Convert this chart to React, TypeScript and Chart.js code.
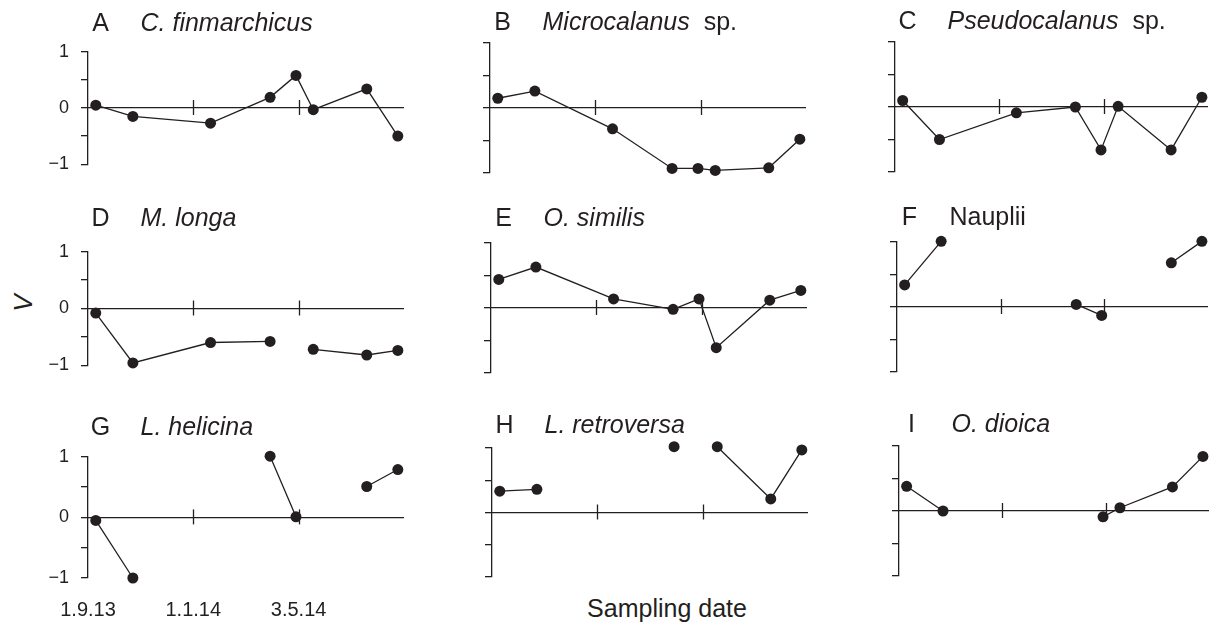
import React, { useEffect, useRef } from "react";
import { Chart, registerables } from "chart.js";

Chart.register(...registerables);

// ---------- data ----------
// sampling days counted from 1.9.13
const SAMPLING_DAYS = [9, 52, 142, 211, 241, 261, 323, 359];
const X_MAX_DAYS = 365;
const ZERO_LINE_TICK_DAYS = [122, 244]; // 1.1.14, 3.5.14
const DATE_TICK_DAYS = [0, 122, 244];
const DATE_TICK_LABELS = ["1.9.13", "1.1.14", "3.5.14"];
const Y_TICKS = [-1, -0.5, 0, 0.5, 1];
const Y_TICK_LABELS = ["\u22121", "", "0", "", "1"];

const PANEL_LETTERS = ["A", "B", "C", "D", "E", "F", "G", "H", "I"];
const NAME_ITALIC = ["C. finmarchicus", "Microcalanus", "Pseudocalanus", "M. longa", "O. similis", "", "L. helicina", "L. retroversa", "O. dioica"];
const NAME_PLAIN = ["", "sp.", "sp.", "", "", "Nauplii", "", "", ""];

const V_A = [0.05, -0.15, -0.27, 0.19, 0.58, -0.03, 0.34, -0.5];
const V_B = [0.15, 0.26, -0.32, -0.93, -0.93, -0.96, -0.92, -0.48];
const V_C = [0.1, -0.5, -0.09, 0.0, -0.66, 0.01, -0.66, 0.15];
const V_D = [-0.08, -0.96, -0.6, -0.58, null, -0.72, -0.82, -0.74];
const V_E = [0.44, 0.63, 0.14, -0.02, 0.14, -0.61, 0.12, 0.27];
const V_F = [0.34, 1.01, null, 0.04, -0.13, null, 0.68, 1.01];
const V_G = [-0.05, -1.0, null, 1.01, 0.01, null, 0.51, 0.79];
const V_H = [0.33, 0.36, null, 1.02, null, 1.02, 0.21, 0.97];
const V_I = [0.38, 0.0, null, null, -0.09, 0.05, 0.37, 0.84];
const PANEL_VALUES = [V_A, V_B, V_C, V_D, V_E, V_F, V_G, V_H, V_I];

// ---------- layout (plot-area boxes, px) ----------
const PANEL_BOXES = [
  { left: 88, right: 403, top: 43, bottom: 173, base: 31 },
  { left: 490, right: 805, top: 43, bottom: 173, base: 30 },
  { left: 895, right: 1207, top: 42, bottom: 172, base: 29 },
  { left: 88, right: 403, top: 243, bottom: 374, base: 226 },
  { left: 491, right: 806, top: 243, bottom: 373, base: 226 },
  { left: 897, right: 1207, top: 242, bottom: 372, base: 225 },
  { left: 88, right: 403, top: 448, bottom: 578, base: 435 },
  { left: 492, right: 807, top: 448, bottom: 577, base: 433 },
  { left: 899, right: 1208, top: 446, bottom: 576, base: 432 },
];

const INK = "#231f20";
const FONT = '"Liberation Sans", Arial, Helvetica, sans-serif';
Chart.defaults.font.family = FONT;

const YW = 50;
const PT = 14;
const PR = 12;
const PB = 14;
const X2H = 46;

const zeroLineTicks = {
  id: "zeroLineTicks",
  beforeDatasetsDraw(chart: any) {
    const xs = chart.scales.x;
    const ys = chart.scales.y;
    const ctx = chart.ctx;
    const py = ys.getPixelForValue(0);
    ctx.save();
    ctx.strokeStyle = INK;
    ctx.lineWidth = 1.3;
    for (const d of ZERO_LINE_TICK_DAYS) {
      const px = Math.round(xs.getPixelForValue(d)) + 0.5;
      ctx.beginPath();
      ctx.moveTo(px, py - 8);
      ctx.lineTo(px, py + 7);
      ctx.stroke();
    }
    ctx.restore();
  },
};

function Panel({ idx }: { idx: number }) {
  const ref = useRef<HTMLCanvasElement>(null);
  const box = PANEL_BOXES[idx];
  const col = idx % 3;
  const showYLabels = col === 0;
  const showDates = idx === 6;
  const areaW = box.right - box.left;
  const areaH = box.bottom - box.top;
  const W = YW + areaW + PR;
  const H = PT + areaH + PB + (showDates ? X2H : 0);

  useEffect(() => {
    if (!ref.current) return;
    const values = PANEL_VALUES[idx];
    const data = SAMPLING_DAYS.map((d, i) => ({ x: d, y: values[i] }));
    const scales: any = {
      x: {
        type: "linear",
        min: 0,
        max: X_MAX_DAYS,
        position: { y: 0 },
        ticks: { display: false },
        grid: { display: false, drawTicks: false },
        border: { display: true, color: INK, width: 1.3 },
        afterFit: (s: any) => {
          s.height = 0;
        },
      },
      y: {
        type: "linear",
        min: -1,
        max: 1,
        afterBuildTicks: (s: any) => {
          s.ticks = Y_TICKS.map((v) => ({ value: v }));
        },
        afterFit: (s: any) => {
          s.width = YW;
        },
        ticks: {
          display: showYLabels,
          callback: (_v: any, i: number) => Y_TICK_LABELS[i],
          font: { family: FONT, size: 18 },
          color: INK,
          padding: 12,
        },
        grid: { display: true, drawOnChartArea: false, drawTicks: true, tickLength: 7, color: INK, lineWidth: 1.3 },
        border: { display: true, color: INK, width: 1.3 },
      },
    };
    if (showDates) {
      scales.x2 = {
        type: "linear",
        position: "bottom",
        min: 0,
        max: X_MAX_DAYS,
        afterBuildTicks: (s: any) => {
          s.ticks = DATE_TICK_DAYS.map((v) => ({ value: v }));
        },
        afterFit: (s: any) => {
          s.height = X2H;
        },
        ticks: {
          callback: (_v: any, i: number) => DATE_TICK_LABELS[i],
          autoSkip: false,
          maxRotation: 0,
          minRotation: 0,
          font: { family: FONT, size: 20 },
          color: INK,
          padding: 20,
        },
        grid: { display: false, drawTicks: false },
        border: { display: false },
      };
    }
    const chart = new Chart(ref.current, {
      type: "line",
      data: {
        datasets: [
          {
            data: data as any,
            xAxisID: "x",
            yAxisID: "y",
            borderColor: INK,
            backgroundColor: INK,
            borderWidth: 1.3,
            pointRadius: 5.5,
            pointBackgroundColor: INK,
            pointBorderColor: INK,
            pointBorderWidth: 0,
            tension: 0,
            spanGaps: false,
            clip: false as any,
          },
        ],
      },
      options: {
        responsive: false,
        animation: false,
        events: [],
        layout: { padding: { top: PT, right: PR, bottom: PB, left: 0 } },
        plugins: { legend: { display: false }, tooltip: { enabled: false }, title: { display: false } },
        scales,
      },
      plugins: [zeroLineTicks],
    });
    return () => chart.destroy();
  }, [idx]);

  return (
    <canvas
      ref={ref}
      width={W}
      height={H}
      style={{ position: "absolute", left: box.left - YW, top: box.top - PT, width: W, height: H }}
    />
  );
}

function Title({ idx }: { idx: number }) {
  const box = PANEL_BOXES[idx];
  const size = 25;
  const top = box.base - 0.85 * size;
  const italic = NAME_ITALIC[idx];
  const plain = NAME_PLAIN[idx];
  return (
    <>
      <div
        style={{
          position: "absolute",
          left: box.left + 12.5 - 20,
          width: 40,
          textAlign: "center",
          top,
          fontSize: size,
          lineHeight: `${size}px`,
          color: INK,
          whiteSpace: "nowrap",
        }}
      >
        {PANEL_LETTERS[idx]}
      </div>
      <div
        style={{
          position: "absolute",
          left: box.left + 52.5,
          top,
          fontSize: size,
          lineHeight: `${size}px`,
          color: INK,
          whiteSpace: "nowrap",
        }}
      >
        {italic ? <i>{italic}</i> : null}
        {italic && plain ? "\u00a0 " : ""}
        {plain}
      </div>
    </>
  );
}

export default function App() {
  return (
    <div
      style={{
        position: "absolute",
        left: 0,
        top: 0,
        width: 1210,
        height: 631,
        overflow: "hidden",
        background: "#ffffff",
        fontFamily: FONT,
      }}
    >
      {PANEL_LETTERS.map((_, i) => (
        <Panel key={"p" + i} idx={i} />
      ))}
      {PANEL_LETTERS.map((_, i) => (
        <Title key={"t" + i} idx={i} />
      ))}
      <div
        style={{
          position: "absolute",
          left: 23 - 20,
          top: 303 - 15,
          width: 40,
          height: 30,
          lineHeight: "30px",
          textAlign: "center",
          fontSize: 26,
          fontStyle: "italic",
          color: INK,
          transform: "rotate(-90deg)",
        }}
      >
        V
      </div>
      <div
        style={{
          position: "absolute",
          left: 667 - 150,
          width: 300,
          textAlign: "center",
          top: 617 - 0.85 * 25,
          fontSize: 25,
          lineHeight: "25px",
          color: INK,
          whiteSpace: "nowrap",
        }}
      >
        Sampling date
      </div>
    </div>
  );
}
